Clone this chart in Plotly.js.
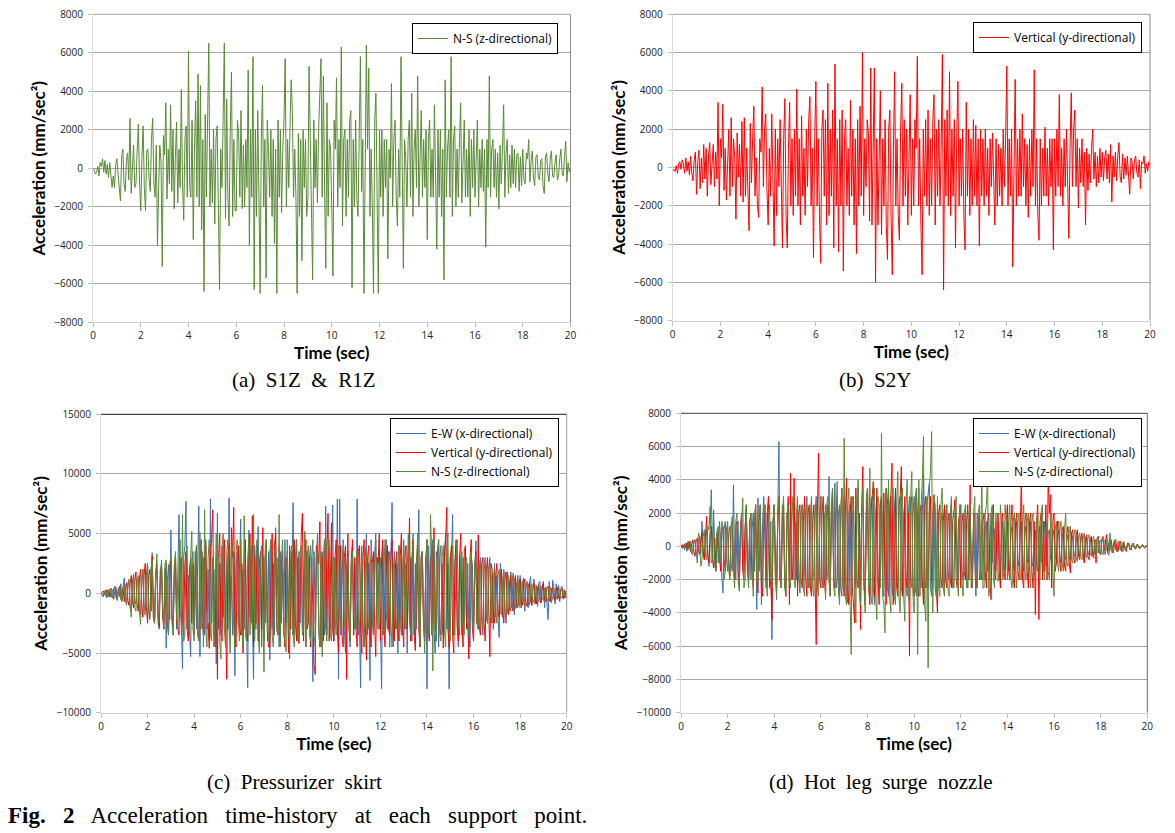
<!DOCTYPE html>
<html>
<head>
<meta charset="utf-8">
<script src="https://cdn.plot.ly/plotly-3.0.1.min.js"></script>
<style>
  html, body { margin: 0; padding: 0; background: #ffffff; }
  #chart { width: 1175px; height: 833px; }
</style>
</head>
<body>
<div id="chart"></div>
<script>
// ---------- DATA (accelerations in mm/sec^2, one value every 0.05 s from 0 to 20 s) ----------
const sampleStart = 0;     // sec
const sampleStep = 0.05;   // sec

// (a) S1Z & R1Z : N-S (z-directional)
const s1zNS = [
  0, -100, -300, -200, 100, -400, 300, 100, 500, -200, 400, -300, 200, -500, 300, -600, -1000, -400, -1000, 200,
  500, -300, -900, -1700, 600, 1000, -800, -1200, 400, 800, -600, 2600, -1300, 300, 1200, -1000, -800, 900, 2300, -700,
  -2200, 600, 2200, -1000, -2200, 900, 1000, -600, -1200, 1500, 2600, -800, -1500, 1200, -4000, -1000, 1200, 300, -5100, 1700,
  700, 3400, -1600, 1000, -800, 3300, -1200, 2000, -2100, 600, 2400, -1800, 1000, -1000, 4100, -800, -2700, 1500, 2200, -1500,
  6100, -1000, -1500, 2500, -3700, 1000, 3500, -1500, 4900, -2000, 4300, -3200, 1500, -6400, 2800, -1500, 2000, 6500, -2000, 1000,
  -1800, 2000, -2900, 1500, 2200, -3200, -6300, 1000, -1000, 2500, 6500, -2600, 3600, -1500, -3000, 2000, 5000, -2500, 1500, -2200,
  -2200, 2500, 1800, -1500, 3000, -2100, 1200, -2000, 1500, -1000, 5100, -4000, 2000, -1500, 5800, -6300, 2000, -2500, 3000, -1500,
  -6500, 1500, 4300, -2000, 1500, -5700, 2500, 1000, -1500, 2000, -2500, 1500, -3900, 1000, -6500, 2500, -1500, 2000, -2300, 1000,
  2500, 5700, -2000, 1500, -1000, 2000, 4600, 3000, -1500, 1000, -1500, -6500, 1800, -2500, 1500, -4800, 2000, -1000, 1500, -2500,
  -1500, 5300, 1000, -1500, -5800, 2500, -1000, 1500, -1800, 2000, 3500, 5700, -1500, 4800, -1000, -5200, 3400, -2500, 1500, 1000,
  -2000, -5600, 2500, 1000, 4700, -2000, 1500, -1000, 6300, -3000, 1500, 2000, -2500, 1500, -1500, 2500, 3000, -6200, 1500, -2000,
  2500, -1500, -2500, 1000, 5800, -1200, 1500, -6500, 2000, 6400, 1000, 5200, -2500, 1000, -2000, -6500, 2500, 3900, -1500, -6500,
  2000, -1500, 2000, -2500, 1500, -1000, 1500, -4700, 1000, -500, 4400, -2000, 1500, 2500, -1500, -3000, 1000, -1500, 5800, -1000,
  -5200, 1500, 500, -2000, 1500, 2500, -1500, 3900, -2500, 1000, 2000, -1000, 4800, -2000, 1000, 3000, -1500, 1500, -1000, 2000,
  -3700, 1500, 2500, -1500, 1000, -1500, 3300, -1000, -4200, 2000, -1500, 2000, -2500, 1000, -5800, 4600, -1500, 1000, 2000, -1500,
  5800, -2500, 1500, 2200, -2000, 1000, -1500, 1500, 3400, -1800, 1000, 2500, -1500, 1000, -1500, 2000, -2500, 1500, -1000, 2000,
  -1500, 1000, 2500, -2000, 1000, -1000, 1500, -1200, 1000, -4100, 1500, -1000, 4800, -1500, 1000, 1500, -1000, 1000, -1500, 800,
  -2100, 1200, -800, 1000, 3300, -1500, 800, 1500, -1300, 700, -1000, 1200, -800, 1000, -1000, 700, 800, -1200, 600, -900,
  1000, -600, -800, 800, 500, 1500, -700, 400, 900, -500, -900, 600, 700, -500, -600, 400, 500, -900, -1300, 600,
  800, -300, -700, 500, 900, -400, -500, 300, 700, -600, -400, 500, 1000, -300, -400, 600, 1400, -700, 300, -200, 100
];

// (b) S2Y : Vertical (y-directional)
const s2yVert = [
  -200, -100, -200, 100, -300, 200, 300, -100, 400, 200, -300, 500, -200, 300, -400, 600, -300, -700, 400, 800,
  -1400, 300, 900, -1100, 500, -800, 1200, -600, 1000, -1500, 600, 1300, -900, 500, 1200, -1000, 800, -600, 3400, -2000,
  1500, 500, 3300, -1200, 1000, -1700, 800, 2000, -1500, 2600, -1000, 1500, 500, -2700, 1800, -500, 1200, -1500, 2400, -1800,
  2600, -1500, 1000, -2000, -3300, 2300, -800, 1500, 3200, -1500, 500, -2000, -2600, 1500, 800, 4200, -1000, 2000, 2800, -1200,
  -3000, 1000, -1500, 2800, -1000, -4100, 2000, -2500, 1500, -1000, 2500, -2000, -4200, 1500, 3600, -2500, -4200, 1000, 3400, -2000,
  1500, -2500, 2000, -1500, 4100, -2000, 1500, -3000, 2700, -1500, 1000, -2500, 2000, -1000, 2500, 3700, -2000, 1000, -4700, 1500,
  4500, -2000, 1500, -2500, -5000, 2000, 3000, -1500, 2500, -3000, 4400, -2500, 2000, -1500, 3000, -4200, 5400, -2000, 1500, -4400,
  2500, -2000, 3000, -5400, 1500, 2500, -2000, 1000, -2500, 3500, -1500, 2000, -3000, 1500, -4500, 2500, -2000, 3200, -1500, 6000,
  -2500, 1500, -1000, 2500, 1800, -2800, 5200, -3000, 2000, 5200, -6000, 1500, -3000, 2000, 4000, -3500, 1500, -2000, 2500, -3000,
  -4800, 2000, 3000, -2500, -5600, 1000, 5000, -2000, 1500, -2500, -3800, 2000, 4400, -2000, 2500, -1500, 2000, -3000, 1500, 3800,
  -2500, 1500, -2000, 2500, 1000, 5800, -2000, 1500, -3000, -5600, 2000, -1500, 2500, -2000, 3000, -2500, 1500, -2000, 2500, 3800,
  -3000, 2000, -1500, 2500, -2000, 1000, 5900, -6400, 2500, -1500, 3000, -2000, 5000, -2500, 2000, -1500, 2500, -4200, 1500, 4500,
  -2000, 1500, -1500, 2000, -2500, -4300, 3400, -1500, 2000, -2500, 1500, -2000, 2500, -1500, 2200, -2000, 1500, -4100, 2000, -1500,
  1500, -2000, 2000, -1500, 1000, -2500, 1500, -1000, 1800, -1500, -3000, 1500, -2000, 1200, -1500, 1000, -2000, 2000, -1000, 1500,
  5300, -2000, 1500, -1500, 2000, -5200, 1000, 4600, -2000, 1500, -1500, 2000, -1500, 2800, -1000, 1500, -2000, 1200, -2600, 1500,
  -1500, 2000, -1000, 5100, -2000, 1500, -2500, -3800, 1500, -2000, 1000, -1500, 2100, -1500, 1000, -2000, 1500, -1000, 1500, -4300,
  1500, -1500, 2000, -1000, 3800, -1500, 1000, -2000, 1500, -1000, 2000, -1500, -3700, 1000, 3900, -1000, 2000, 3000, -1000, 1500,
  -2100, 1000, -800, 1500, -1000, 800, -3000, 1000, -1200, 700, -800, 1000, 2000, -600, 800, -1000, 600, -800, 1000, -500,
  800, -700, 500, 900, -600, 700, -800, 1200, -1800, 600, -500, 800, -700, 600, 1300, -500, -800, 700, -600, 500,
  -400, 600, -500, -1400, 500, 300, -600, 400, 600, -300, -500, 400, -1100, 300, 200, 600, -300, 200, -200, 300, 100
];

// (c) Pressurizer skirt
const pzrEW = [
  0, -200, -300, 100, 200, -400, 300, -100, -300, 400, 200, -500, 300, 500, -600, 400, -300, 800, -500, 600,
  1300, -400, -800, 600, 1000, -1200, -1500, 800, 1600, -600, -900, 1000, 1200, -1400, -1800, 700, 2000, -1000, -1500, 1200,
  2500, -1500, -2200, 1800, 3400, -1200, -2500, 1500, 2000, -2000, -3000, 1200, 2800, -1800, -2500, 2000, -4600, 1000, 2400, -2200,
  5300, -2000, -3500, 1500, 2500, -3000, 2000, 6600, -1500, -2500, -6300, 3000, 4000, 7700, -3000, 1500, -3000, -5300, 2500, 3500,
  -2500, 3500, -3000, 1500, 7300, -5300, 2500, -2000, 3000, -3500, 4500, -1500, 2000, -4000, 7900, -2500, 3000, -3500, 2000, -5900,
  6700, -3000, 2500, -3500, 4000, -2000, 3000, -4500, 2500, -3000, 8000, -2500, 1500, -3500, 3500, -6900, 2000, 3500, -2500, 2500,
  6200, -3500, 2000, -3000, 3000, -2500, -7900, 5300, -2000, 3500, -2500, -7200, 4000, -3000, 2500, 5600, -3500, 2000, -4500, 3000,
  3000, -2500, 2000, -4000, 3500, -5600, 4500, -3000, 2500, -3500, 5500, -2000, 3000, -4500, 3500, -2500, 2000, -3000, 4500, -2500,
  3500, -2500, -5500, 3000, 2000, 7600, -3500, 2500, 4500, -4000, 3500, -2500, 3000, -3000, 2000, 5000, -4500, 3500, -2500, 3000,
  4000, -3000, -7400, 3500, -2500, 3000, 5000, -3000, -4500, 2500, 3500, -2000, -3500, 7300, -3500, 2500, 4000, -3000, 2000, 7400,
  -4000, 3000, -2500, 7900, -7200, 7900, -3500, 2000, 4500, -3000, -5000, 2500, 3500, -2000, -4500, 3000, 4000, -3500, 2500, -3000,
  7900, -3500, -2500, -7900, 3500, -2500, -4500, 3000, 5000, -3500, 2500, -7300, 4500, -2000, -3500, 3000, 5000, -2500, 3000, -3000,
  -2500, -8000, 4000, -3500, 2500, 4500, -3000, 3500, -4500, 3000, 7600, -4500, 3500, -3000, 2500, -5000, 4000, -2500, 3000, -3500,
  4500, -3000, 2500, -5000, 3500, -2500, 3000, -4000, 5000, -3500, 2500, -3000, 4000, 7000, -4500, 3000, 3500, -2500, -4000, 3000,
  -8000, 4000, -2500, 3000, -3500, 4500, -3000, -5000, 3500, 2500, -4500, 3000, 4000, -2500, -3500, 3000, 5000, -3000, 2500, -8000,
  3000, 2500, 6600, -3500, 2500, 4000, -2500, -4500, 3000, 2000, -3500, 3000, -2000, 3500, -3000, 2500, -3500, -4500, 3000, 2500,
  -3000, 2000, 4400, -2500, -3000, 2500, 3000, -2000, -3500, 2500, 3000, -2000, -2500, 2000, 3000, -2500, 1500, -3000, 2500, -2000,
  1500, -2000, -3700, 2500, 1500, -2000, 2000, -1500, -2500, 1800, 1000, -1500, 1800, -1200, 1700, -1800, 1000, -1200, 1500, -1000,
  1500, -1200, 800, 1300, -1500, 600, 1000, -1200, 800, 1400, -1000, 500, 1200, -900, 700, -1100, 900, 1000, -800, 600,
  1000, -1200, 500, -800, -2200, 1000, -600, -800, 1100, 500, -900, 800, -500, 700, -700, 400, 600, -500, 300, -400, -300
];
const pzrVert = [
  0, 100, 200, -100, -200, 300, 200, -300, 400, -200, -400, 300, 500, -300, -500, 400, 600, -400, -600, 400,
  -700, 500, 900, -600, -1000, 800, 1500, -700, -1200, 1000, 1800, -900, -1500, 1200, 2000, -1000, -2000, 1500, 2500, -1200,
  -2500, 1500, 2000, -1500, 3100, -2000, -2500, 1800, 2500, -1500, -2800, 2000, 2200, -2000, -3000, 1500, 2500, -2500, -3500, 2000,
  2800, -2000, -2500, 2000, 3000, -2500, -3000, -3500, 2500, 3000, -2000, -3500, 2500, 3500, -3000, -4000, 2000, 3000, -2500, 2500,
  -3500, 2000, 4000, -3000, -4000, 2500, 4500, -2500, -3500, 3000, 4000, -3000, -2500, -4600, 3500, 4500, 7000, -3000, -4500, 3000,
  -7200, 3000, 5000, -3000, -4000, 3500, 4500, -2500, -7200, 3000, 4000, -3500, 5500, 3000, 7200, -3000, -4500, 2500, 4000, -3000,
  -3500, 2500, -5000, 3000, 4500, -3000, -4000, 2500, 5000, -2500, 6500, -4500, 3000, -2500, 4000, -4000, 2500, 3500, -3000, 5500,
  -4000, 3000, 4500, -3500, -4500, -4500, 2500, 5000, -3500, 4000, 5000, -3000, -3500, 4000, -4000, 2500, 3500, -3000, -4500, 3000,
  2500, -5000, 4000, -3000, 3500, -3500, 4500, -2500, -4000, 3000, -4200, 2500, 5000, 6700, -4000, 3000, 4500, -3000, -2500, 3000,
  -4500, 3000, -3500, -6000, -6800, 4000, 3500, 2500, 6000, -4500, 3000, -4000, 4500, -3000, 3500, 6700, -4000, 2500, 5900, -3000,
  -4000, 3000, 4500, -3000, -5000, 2500, 4000, -3500, -4500, 3000, 4000, -7200, 5000, -3000, -4000, 2500, 4500, -3500, 3000, -3000,
  -4500, 3500, 4000, -3000, -5000, 3000, 4500, -2500, -5600, 3000, 4000, -3000, -4500, 2500, 3500, -2500, -5300, 3000, 2500, 5000,
  -4000, 3000, 4500, -3000, -4500, 2500, 4000, -3000, -3500, 3000, 4500, -3500, -4000, 2500, 3500, -3000, -4000, 3000, 5000, -2500,
  -4500, 3000, 4000, -3000, 2500, 6300, -4000, 3000, 4500, -3500, -4800, 2500, 4000, -3000, -4500, 3000, 3500, -2500, -4000, 3000,
  4500, -3000, -4000, 2500, 4000, -2500, 5500, -3000, -4000, 3500, 4500, -3000, -3500, 2500, -4600, 3500, 4500, 7200, -3000, -4500,
  3000, 4000, -3500, -5000, 2500, 4500, -3000, -4000, 3000, 5000, -2500, -4500, 3500, 4000, -3000, -2500, -5500, 3000, 4500, -3000,
  -4000, 2500, 3500, -2500, 4900, -3000, -3500, 2500, 3000, -2500, -4000, 2000, 3000, -2500, -5300, 2500, 2000, -2000, -2500, 1500,
  2500, -1500, -2000, 1500, 2000, -1500, -2500, 1200, 1800, -1500, -1800, 1000, 1500, -1200, -1500, 1000, 1500, -1000, -1200, 800,
  1200, -800, -1000, 700, 1200, -800, -1100, 600, 900, -700, -1000, 500, 800, -600, -900, 500, 700, -600, -800, 500,
  800, -500, -700, 400, 600, -500, -700, 400, 500, -400, -600, 300, 500, -400, -500, 300, 400, -300, -400, 200, -300
];
const pzrNS = [
  0, -100, -200, 200, 300, -200, -300, 300, 400, -300, -400, 400, 600, -400, -500, 400, 500, -500, -700, 500,
  800, -600, -1000, 800, 1200, -900, -2000, 1000, 1500, -1200, -1500, 1000, 1500, -1500, -2600, 1200, 2000, -1500, -1800, 1500,
  2500, -1500, -2000, 2000, 2800, -2000, -2500, 1500, 3300, -2500, -2000, 2000, 2500, -1500, -3000, 2500, 2800, -2000, -3500, 2500,
  3000, -2500, -3500, 2500, 3500, -2000, -3000, 2500, 4500, -3000, 6600, -4000, -3500, 3000, 4000, -2500, -3500, 3000, 5200, -3000,
  -4000, 3000, 4000, -3500, -4000, 5100, -3000, 3500, -4500, 7000, -3000, -4500, 3000, 4500, -3500, -4000, 3000, -4500, 2500, 5000,
  -3500, 3000, -4000, -5500, 4000, 5000, -3000, -4500, 3500, 4500, -3000, -5000, 3500, 4000, -3000, -4500, 3500, 4500, -2500, -4000,
  4500, -3000, -4500, 6500, -3500, -4000, 3000, 4500, -3500, 4000, -3000, 6600, -4000, 3000, 4500, -3500, -5000, 3000, 4000, -3500,
  -6600, 3500, 4500, -3000, -4000, 3500, 4500, -3500, -4500, 3000, 4000, -3000, -3500, 6600, -4500, 3000, 4500, -3500, -4000, -4900,
  4500, -3000, -4000, 3500, 4000, -3500, -4500, 3000, 4500, -3000, -4000, 3500, 4000, -3500, -3000, 5200, -4500, 3000, 4000, -3500,
  -4000, 3000, 4500, -3500, -4500, 3000, 4000, -3000, -4500, 3500, -5300, 3000, 4500, -3000, -4000, 3500, 4500, -3500, -4000, 3000,
  3000, -2000, -3500, 2500, 4000, -1500, -3000, 2000, 3500, -2500, -3000, 1500, 3000, -2000, -4000, 2500, 3500, -1500, -3000, 2000,
  3500, -2000, -3000, 1500, 4000, -2500, -4500, 2000, 3500, -1500, -3000, 2500, 3000, -2000, -3500, 2000, 4500, -2500, -3000, 1500,
  3000, -2500, -3500, 2000, 4500, -1500, -3000, 2500, 3500, -2500, -4500, 2000, 3000, -1500, -3000, 2500, 4000, -2500, -3500, 2000,
  4000, -2500, -3000, 2000, 5000, -2500, -3500, 1500, 4500, -2000, -3000, 2500, 5000, -2500, -4500, 2000, 3500, -2000, -5000, 2500,
  4500, -3000, -3500, 6600, 3500, -6500, 4500, -3000, -4000, 3000, 4500, -3500, -4000, 3000, 4000, -3000, -4500, 3500, 5000, -3000,
  -4000, 3000, 4000, -3000, -3500, 3000, 4500, -2500, -3500, 3000, 3500, -2500, -3500, 2500, 3000, -2500, -3500, 2500, 3500, -2500,
  -3000, 2500, 3000, -2500, -3000, 2000, 2500, -2000, -3000, 2000, 2500, -2000, -2500, 2000, 2500, -2000, -2500, 1500, 2000, -1500,
  -2500, 1500, 2000, -1500, -1800, 1200, 1800, -1500, -2000, 1200, 1500, -1000, -1500, 1000, 1500, -1000, -1300, 900, 1200, -800,
  -1200, 800, 1000, -700, -1100, 700, 900, -600, -1000, 600, 800, -500, -800, 500, 700, -500, -700, 400, 600, -400,
  -600, 400, 500, -400, -700, 400, 500, -300, -500, 300, 400, -300, -500, 300, 400, -300, -400, 200, 300, -200, -200
];

// (d) Hot leg surge nozzle
const hlEW = [
  0, -100, 100, -200, 200, -300, 300, -100, 300, -400, -500, 200, 400, -300, -1000, 300, 600, -400, 1500, -300,
  -800, 500, 1000, -600, -1200, 800, 3400, -500, 2200, -1000, -1500, 800, -1000, 1500, 500, -1800, -2800, 1000, 1500, -800,
  -1500, 800, 1200, -1000, -1500, 3700, -800, -2000, 1000, 1500, -2500, 800, 2000, -1200, -1500, 1000, 2500, -1500, -2000, 1500,
  -2000, 1000, 2000, -1500, 2500, -3800, 2900, -1500, 1000, -3500, 1500, 3000, -1000, -2500, 2000, 1000, -2000, 1500, -5600, 1500,
  2500, -1500, -3200, 2000, 6300, -2000, -1500, 2500, 1500, -2500, -2000, 2000, 1500, -2500, 3000, -1500, -2000, 2500, 1500, -2000,
  2500, -1500, -2800, 2000, 2500, -2000, -1500, 2000, 3000, -2500, -2000, 1500, 2500, -2000, -1500, 2000, 3000, -2500, -2000, 1500,
  3000, -2000, -2500, 1500, 2500, -2000, -1500, 4200, -2500, 2000, 3000, -1500, 3800, -2500, -2000, 2000, 2500, -2500, -3000, 2000,
  3000, -2000, -2500, -3400, 2000, 2500, -3000, 1500, 3000, -2500, -2000, 2000, 3500, -2000, -3000, 2500, 2000, -2500, -3000, 2000,
  3500, -2000, -3000, 2500, 3000, -2500, -3500, 2000, 3000, -2000, -2500, 2500, 3000, -2500, -3000, 2000, 3500, -2500, -3000, 2500,
  3000, -2500, -3000, 2000, 3500, -2000, -2500, 2500, 3000, -2500, -3000, 2000, 2500, -2500, -3000, 2000, 3000, -2000, -2500, 2000,
  3000, -2500, -3000, 2000, 3500, -2000, -2500, 2000, 4300, -2000, -2500, 2500, 3000, 3800, -2500, -3000, 2000, 2500, -2500, -3000,
  2500, -2000, -2500, 1500, 2000, -2000, -2500, 1500, 2500, -1500, -2000, 1500, 2500, -2000, -2500, 1500, 2000, -1500, -2000, 1500,
  2500, -1500, -2000, 1500, 2000, -2000, -2500, 1500, 2000, -1000, -1500, 1500, -1000, -3000, 2000, 1500, -2000, -1500, 1500, 1000,
  -2000, 1000, 1500, -1500, -1500, 1000, 2000, -1000, 1100, 1000, -1500, 800, 1500, -1000, -2000, 1000, 1500, -1000, -1500, 800,
  1500, -1000, -1500, 800, 1200, -1000, -1500, 1000, 1500, -800, -1200, 800, 1500, -1000, -1500, 800, 1200, -800, -1000, 700,
  1500, -1000, -1200, 800, 1000, -1000, -1500, 800, 1200, -800, -1000, 700, 1500, -1000, -1200, 800, 1000, -700, -1000, 600,
  1000, -600, -800, 600, 1000, -700, -1000, 600, 800, -600, -800, 500, 700, -600, -800, 500, 600, -500, -600, 400,
  600, -400, -600, 400, 600, -500, -700, 400, 500, -400, -500, 300, 500, -300, -500, 300, 400, -300, -400, 300,
  400, -300, -500, 300, 400, -200, -300, 200, 400, -200, -300, 200, 300, -200, -300, 200, 300, -200, -300, 200,
  200, -100, -200, 100, 200, -100, -200, 100, 150, -100, -150, 100, 100, -100, -100, 50, 100, -50, -100, 50, 0
];
const hlVert = [
  0, 100, -100, 100, -100, 200, -200, 300, -300, 200, 400, -300, -600, 300, 500, -200, -500, 400, 800, -300,
  -800, 600, 1800, -500, -1000, 700, 1200, -800, -1300, 500, -1300, 800, 1000, -700, -1500, 900, 1200, -800, -1500, 1000,
  1200, -1000, -1800, 1200, 1500, -1000, -2000, 1200, 1500, -1500, -2200, 1000, 2000, -1500, -2000, 1200, 2300, -1000, -2000, 1500,
  2000, -1500, -2500, 1500, 2500, -2000, -2800, 1500, 2500, -2000, -3000, 1500, 2500, -2000, 2000, 3000, -2500, -2000, -4400, 1500,
  2500, -2000, -2500, 1500, 3000, -2000, -2500, 2000, 2500, -2000, -3000, 1500, 3000, -3500, 4400, -2000, -1500, 4100, -2000, 1500,
  -3000, 2000, 2500, -2000, -2500, 1500, 3000, -2000, -3000, 2000, 2500, -2500, -3000, 1500, 2500, -2000, -5900, 2000, 5600, -2000,
  -2500, 2000, 3000, -2000, -3000, 1500, 2500, -2000, -3000, 2000, 3500, -2000, -2500, 2000, 3000, -2500, -3000, 2000, 3500, -2000,
  -3000, 2000, 4100, -2500, -3500, 2000, 3000, -2500, -3500, -4600, 3500, -2000, -2500, 2000, -5000, 2500, 4800, -2000, -3500, 2000,
  3500, -2500, -3500, 2000, 3000, 3900, -3000, -2500, 3500, -2000, -3500, 2500, 3000, -2500, 3200, -2000, -3500, 2500, 3500, -2500,
  3000, 5000, -3500, -2500, 3500, -2500, -3000, 2500, 3000, 4800, -3000, -2500, 3000, -2000, -2500, 2000, -6600, 2500, 3000, -2500,
  -3000, 2500, 3500, -2500, -3000, 2000, 2500, -2000, -3500, 2500, 3000, -2500, -2500, 2000, 3000, -2000, -2500, 3100, 2000, -2500,
  -4000, 2000, 2500, -2000, -2500, 1500, 2500, -2000, -2500, 1500, 2000, -2000, -2500, 1500, 2000, 2800, -2000, -2500, 1500, 2000,
  -2500, 1500, 2000, -1500, -2000, 1500, 2500, -2000, 3700, -2500, -2000, 1500, 2000, -2000, -2500, 1500, 2000, -1500, -2000, 1500,
  2000, -1500, -2500, 1500, 2000, -2000, -3200, 1500, 2500, -1500, -2000, 1500, 2000, -1500, -2500, 1500, 2000, -1500, -2000, 1500,
  2500, -1500, -2000, 1500, 2500, -2000, -2500, 1500, 2000, -1500, -2000, 1500, 4200, -2000, -2500, 1500, 2000, -1500, -2500, 1500,
  2000, -1500, -2500, 1500, -4100, 1500, 2500, -4400, 1500, 2000, -2000, 1500, -1500, 2500, -2000, 4200, 2000, 3100, -2500, 1500,
  2000, -1500, -1000, 1500, 1500, -1000, -1500, 1000, 1200, -1200, -1500, 800, 1200, -1000, -1600, 800, 1000, -800, -1000, 700,
  1000, -600, -800, 600, 800, -700, -1000, 500, 700, -600, -800, 500, 600, -500, -700, 400, -1000, 500, 600, -400,
  -500, 400, 600, -300, 400, 700, -400, -500, 300, 400, -300, -400, 300, 400, -300, -300, 200, 300, -200, -300,
  200, -200, -300, 200, 200, -200, -200, 100, 200, -100, -150, 100, 100, -100, -100, 50, 100, -50, -100, 50, 0
];
const hlNS = [
  0, -100, -100, 100, 100, -200, -200, 300, 300, -400, -300, 300, 400, -500, -400, 800, 600, -1200, -800, 600,
  1000, -600, -800, 1200, 1000, 2400, -1000, -800, 1500, -1200, -1500, 1000, 1200, -1000, -800, 1500, 1200, -2000, -1500, 1000,
  1500, -1500, -2000, 1200, 1800, -1500, -2500, 1500, 2000, -2000, -2700, 1000, 1500, 2900, -2500, -2000, 2500, -1500, -2500, 1500,
  2000, -1500, -3000, 1500, 2500, -2000, -2500, 2000, 2500, -1500, -2000, 2000, 2500, -2000, -3000, 1500, 2500, -2000, -2500, 1500,
  2500, -2000, -3000, 2000, 3000, -2000, -2500, 2000, 3000, -2500, -3000, 2000, 2500, -2000, -2500, 1500, 3000, -2000, -2500, 2000,
  3000, -2000, -2500, 2000, 2500, -2500, -3000, 2000, 2500, -2000, -2500, 2000, 3000, -2500, -3000, 2000, 2500, -2500, -3000, 2000,
  3000, -2000, -2500, 2000, -3200, 2500, 3000, -2000, -3000, 2500, 3500, -2500, -3000, 2000, 3900, -2500, -3500, 2000, 3500, -2500,
  6500, -3000, -3500, 2500, 3500, -3000, -6500, 3000, 2500, -2500, -4600, 3000, 4000, -3000, -3500, 2500, 3500, -2500, -4000, 3000,
  3500, -2500, 4700, -3000, -3500, 2500, 3500, -3000, -4400, 3000, 2500, -2500, 6800, -3000, -3500, -5200, 3500, -2500, 4000, -3000,
  -4000, 3000, 3500, -3000, -3500, 2500, 4500, -3000, -4000, 3000, 3500, -3000, -4500, 2500, 4000, -3000, -3500, 3000, 4500, -3000,
  -4000, 3000, 3500, -6500, 4000, -3000, 2500, 4000, 6600, -3500, -4500, 3000, -7300, 3500, 4500, 6900, -4000, 3000, 2500, -3000,
  3000, -2500, -3000, 2500, 3500, -2500, -3000, 2000, 2500, -2500, -3000, 2000, 3000, -2500, -2500, 2000, 3000, -2000, -3000, 2500,
  2500, -2000, -3000, 2000, 2500, -2500, -2500, 2000, 2500, -2000, -2500, 2000, 3000, -2500, -2500, 2000, 2500, -2000, 5000, -2500,
  -2500, 2000, 2500, 4200, -3000, -2500, 2000, 2500, -2000, -2500, 2000, 2000, -2100, -1500, 2500, 1500, -2000, -1500, 2500, 1500,
  -2000, 1500, 2500, -2000, -2500, 1500, 2000, -1500, -2500, 1500, 2000, -2000, -2000, 1500, 2500, -1500, -2000, 1500, 2000, -1500,
  -2500, 1500, 2000, -1500, -2000, 1500, 2000, -1500, -2000, 2000, 2500, -1500, -2000, 1000, 1500, -1500, -2000, 1500, 2000, -1500,
  -3000, 1000, 1500, -1000, -1500, 1000, 1500, -1000, -1500, 1000, 2000, -1000, -1200, 800, 1200, -800, -1000, 700, 1000, -700,
  -900, 600, 800, -600, -800, 500, 800, -500, -700, 500, 700, -400, -600, 400, 600, -400, -600, 400, 500, -300,
  -500, 300, 500, -300, -500, 300, 400, -300, 800, -300, -400, 200, 400, -200, -300, 200, 300, -200, -300, 200,
  300, -200, -200, 100, 200, -100, -200, 100, 150, -100, -150, 100, 100, -100, -100, 50, 100, -50, -100, 50, 0
];

// Labels
const seriesNames = {
  ew: 'E-W (x-directional)',
  vert: 'Vertical (y-directional)',
  ns: 'N-S (z-directional)'
};
const captions = [
  '(a)&nbsp; S1Z&nbsp; &amp;&nbsp; R1Z',
  '(b)&nbsp; S2Y',
  '(c)&nbsp; Pressurizer&nbsp; skirt',
  '(d)&nbsp; Hot&nbsp; leg&nbsp; surge&nbsp; nozzle'
];
const figCaption = '<b>Fig.&nbsp;&nbsp; 2</b>&nbsp;&nbsp; Acceleration&nbsp;&nbsp; time-history&nbsp;&nbsp; at&nbsp;&nbsp; each&nbsp;&nbsp; support&nbsp;&nbsp; point.';
const xTitle = 'Time (sec)';
const yTitle = 'Acceleration (mm/sec²)';

// ---------- STYLE ----------
const GREEN = '#5a8a37';
const RED = '#ff0000';
const BLUE = '#3f6fae';
const W = 1175, H = 833;

function tr(y, name, color, xa, ya, legend) {
  return {
    type: 'scatter', mode: 'lines',
    x0: sampleStart, dx: sampleStep, y: y,
    name: name, line: {color: color, width: 1},
    xaxis: xa, yaxis: ya, legend: legend,
    hoverinfo: 'skip'
  };
}

const data = [
  tr(s1zNS, seriesNames.ns, GREEN, 'x', 'y', 'legend'),
  tr(s2yVert, seriesNames.vert, RED, 'x2', 'y2', 'legend2'),
  tr(pzrEW, seriesNames.ew, BLUE, 'x3', 'y3', 'legend3'),
  tr(pzrVert, seriesNames.vert, RED, 'x3', 'y3', 'legend3'),
  tr(pzrNS, seriesNames.ns, GREEN, 'x3', 'y3', 'legend3'),
  tr(hlEW, seriesNames.ew, BLUE, 'x4', 'y4', 'legend4'),
  tr(hlVert, seriesNames.vert, RED, 'x4', 'y4', 'legend4'),
  tr(hlNS, seriesNames.ns, GREEN, 'x4', 'y4', 'legend4')
];

const tickFont = {family: 'Open Sans, sans-serif', size: 10, color: '#222'};
const titleFont = {family: 'Lato, sans-serif', size: 17, color: '#000', weight: 'bold'};

function xax(l, r, anchor) {
  return {
    domain: [l / W, r / W], anchor: anchor, range: [0, 20], tick0: 0, dtick: 2,
    ticks: 'outside', ticklen: 4, tickcolor: '#bfbfbf', tickfont: tickFont,
    showline: true, linecolor: '#d0d0d0', linewidth: 1,
    showgrid: false, zeroline: false, fixedrange: true,
    title: {text: xTitle, font: titleFont, standoff: 3}
  };
}
function yax(top, bottom, lo, hi, step, anchor) {
  return {
    domain: [1 - bottom / H, 1 - top / H], anchor: anchor, range: [lo, hi], tick0: 0, dtick: step,
    ticks: 'outside', ticklen: 4, tickcolor: '#bfbfbf', tickfont: tickFont,
    tickformat: 'd', exponentformat: 'none',
    showline: true, linecolor: '#d9d9d9', linewidth: 1,
    showgrid: true, gridcolor: '#a8a8a8', gridwidth: 1,
    zeroline: false, fixedrange: true, ticklabelstandoff: 3,
    title: {text: yTitle, font: titleFont, standoff: 4}
  };
}
function leg(right, top) {
  return {
    x: right / W, y: 1 - top / H, xref: 'paper', yref: 'paper',
    xanchor: 'right', yanchor: 'top', bgcolor: '#ffffff',
    bordercolor: '#000000', borderwidth: 1,
    font: {family: 'Open Sans, sans-serif', size: 12, color: '#000'},
    itemwidth: 30, tracegroupgap: 0, traceorder: 'normal'
  };
}
function edge(xref, yref, color) {
  return {type: 'line', xref: xref + ' domain', yref: yref + ' domain',
          x0: 1, x1: 1, y0: 0, y1: 1, line: {color: color, width: 1}};
}
function topEdge(xref, yref, color) {
  return {type: 'line', xref: xref + ' domain', yref: yref + ' domain',
          x0: 0, x1: 1, y0: 1, y1: 1, line: {color: color, width: 1}};
}
function cap(text, xc, yc, size, anchor) {
  return {text: text, x: xc / W, y: 1 - yc / H, xref: 'paper', yref: 'paper',
          xanchor: anchor || 'center', yanchor: 'middle', showarrow: false,
          font: {family: 'Liberation Serif, Times New Roman, serif', size: size, color: '#000'}};
}

const layout = {
  width: W, height: H,
  margin: {l: 0, r: 0, t: 0, b: 0},
  paper_bgcolor: '#ffffff', plot_bgcolor: '#ffffff',
  showlegend: true,
  xaxis: xax(93, 570.5, 'y'),
  yaxis: yax(14.3, 322.3, -8000, 8000, 2000, 'x'),
  xaxis2: xax(672.7, 1150, 'y2'),
  yaxis2: yax(14.3, 320.7, -8000, 8000, 2000, 'x2'),
  xaxis3: xax(101, 566.7, 'y3'),
  yaxis3: yax(414.3, 712.7, -10000, 15000, 5000, 'x3'),
  xaxis4: xax(681, 1147.3, 'y4'),
  yaxis4: yax(413.3, 712.7, -10000, 8000, 2000, 'x4'),
  legend: leg(558, 23),
  legend2: leg(1142, 22),
  legend3: leg(559, 418),
  legend4: leg(1142, 418),
  shapes: [
    edge('x', 'y', '#8c8c8c'), topEdge('x', 'y', '#a0a0a0'),
    edge('x2', 'y2', '#8c8c8c'), topEdge('x2', 'y2', '#a0a0a0'),
    edge('x3', 'y3', '#9a9a9a'), topEdge('x3', 'y3', '#1a1a1a'),
    edge('x4', 'y4', '#6a6a6a'), topEdge('x4', 'y4', '#404040')
  ],
  annotations: [
    cap(captions[0], 303, 380, 21),
    cap(captions[1], 875, 380, 21),
    cap(captions[2], 295, 782, 21),
    cap(captions[3], 881, 782, 21),
    cap(figCaption, 6, 815, 23, 'left')
  ]
};

Plotly.newPlot('chart', data, layout, {displayModeBar: false, staticPlot: true});
</script>
</body>
</html>
